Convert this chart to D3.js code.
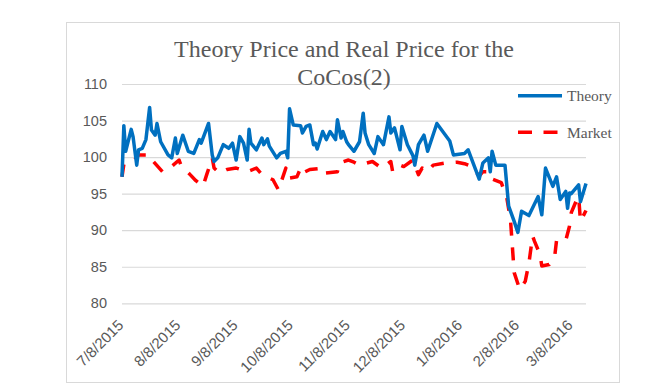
<!DOCTYPE html>
<html>
<head>
<meta charset="utf-8">
<script src="https://cdn.jsdelivr.net/npm/d3@7"></script>
<style>
  body { margin: 0; background: #ffffff; }
  .axis_text { font-family: "Liberation Sans", Arial, sans-serif; fill: #595959; }
</style>
</head>
<body>
<script>
var tickLabels = ["7/8/2015", "8/8/2015", "9/8/2015", "10/8/2015", "11/8/2015",
                  "12/8/2015", "1/8/2016", "2/8/2016", "3/8/2016"];
var yTicks = [80, 85, 90, 95, 100, 105, 110];

var theoryDates = ["7/8/2015", "7/9/2015", "7/10/2015", "7/13/2015", "7/14/2015", "7/16/2015",
  "7/17/2015", "7/19/2015", "7/21/2015", "7/23/2015", "7/24/2015", "7/26/2015", "7/27/2015",
  "7/29/2015", "8/2/2015", "8/4/2015", "8/6/2015", "8/7/2015", "8/10/2015", "8/13/2015",
  "8/16/2015", "8/19/2015", "8/20/2015", "8/24/2015", "8/26/2015", "8/27/2015", "8/29/2015",
  "9/1/2015", "9/4/2015", "9/6/2015", "9/8/2015", "9/10/2015", "9/12/2015", "9/14/2015",
  "9/15/2015", "9/16/2015", "9/19/2015", "9/22/2015", "9/23/2015", "9/25/2015", "9/26/2015",
  "9/30/2015", "10/2/2015", "10/5/2015", "10/6/2015", "10/7/2015", "10/9/2015", "10/13/2015",
  "10/14/2015", "10/16/2015", "10/18/2015", "10/20/2015", "10/21/2015", "10/22/2015",
  "10/25/2015", "10/27/2015", "10/29/2015", "11/1/2015", "11/2/2015", "11/4/2015", "11/5/2015",
  "11/7/2015", "11/8/2015", "11/11/2015", "11/14/2015", "11/16/2015", "11/17/2015",
  "11/19/2015", "11/22/2015", "11/24/2015", "11/27/2015", "11/30/2015", "12/1/2015",
  "12/3/2015", "12/6/2015", "12/7/2015", "12/10/2015", "12/13/2015", "12/14/2015",
  "12/16/2015", "12/19/2015", "12/21/2015", "12/26/2015", "1/2/2016", "1/4/2016", "1/10/2016",
  "1/12/2016", "1/18/2016", "1/20/2016", "1/23/2016", "1/24/2016", "1/25/2016", "1/27/2016",
  "2/1/2016", "2/3/2016", "2/6/2016", "2/8/2016", "2/10/2016", "2/14/2016", "2/19/2016",
  "2/21/2016", "2/23/2016", "2/27/2016", "2/29/2016", "3/2/2016", "3/5/2016", "3/6/2016",
  "3/7/2016", "3/8/2016", "3/12/2016", "3/13/2016", "3/16/2016"];
var theoryValues = [97.3, 104.3, 100.8, 103.8, 102.8, 98.9,
  101, 101.2, 102.4, 106.8, 103.7, 103, 104.6,
  102.1, 100.3, 99.9, 102.6, 100.5, 103, 100.8,
  100.5, 102.4, 101.9, 104.6, 100.3, 99.4, 99.9,
  101.7, 101.2, 101.9, 99.6, 102.8, 101.9, 99.6,
  103.8, 101.9, 101, 102.6, 101.7, 102.5, 101.5,
  99.9, 100.5, 100.8, 99.9, 106.6, 104.4, 104.3,
  103.3, 104.2, 104.4, 101.7, 101.9, 101.1,
  103.5, 102.4, 103.5, 102.4, 105.1, 102.6, 103.5,
  102.1, 101.7, 100.8, 102.1, 106, 103.3,
  101.7, 100.5, 102.8, 101.7, 105.5, 103.3,
  104, 101, 104.2, 101.7, 100.2, 98.9,
  101.7, 103, 100.8, 104.6, 102.2, 100.3, 100.5,
  101, 97, 99.2, 99.9, 98, 100.8, 98.9,
  98.9, 93.3, 91.2, 89.7, 92.6, 92, 94.6,
  92.1, 98.5, 96, 97.3, 94.2, 95.3, 93,
  95.1, 95, 96.2, 93.9, 96.4];

var marketDates = ["7/8/2015", "7/9/2015", "7/14/2015", "7/17/2015", "7/23/2015", "7/25/2015",
  "7/30/2015", "8/3/2015", "8/8/2015", "8/9/2015", "8/14/2015", "8/17/2015", "8/21/2015",
  "8/23/2015", "8/26/2015", "8/27/2015", "8/30/2015", "9/3/2015", "9/8/2015", "9/14/2015",
  "9/19/2015", "9/22/2015", "9/28/2015", "10/1/2015", "10/5/2015", "10/6/2015", "10/11/2015",
  "10/13/2015", "10/14/2015", "10/18/2015", "10/25/2015", "10/26/2015", "11/2/2015",
  "11/3/2015", "11/8/2015", "11/11/2015", "11/14/2015", "11/21/2015", "11/26/2015",
  "12/1/2015", "12/2/2015", "12/6/2015", "12/8/2015", "12/13/2015", "12/16/2015",
  "12/18/2015", "12/21/2015", "12/24/2015", "12/31/2015", "1/6/2016", "1/10/2016",
  "1/14/2016", "1/18/2016", "1/20/2016", "1/23/2016", "1/24/2016", "1/30/2016", "2/2/2016",
  "2/4/2016", "2/6/2016", "2/9/2016", "2/12/2016", "2/14/2016", "2/16/2016", "2/17/2016",
  "2/20/2016", "2/21/2016", "2/25/2016", "2/28/2016", "2/29/2016", "3/5/2016", "3/7/2016",
  "3/8/2016", "3/11/2016", "3/12/2016", "3/13/2016", "3/16/2016"];
var marketValues = [97.3, 99, 99.4, 100.3, 100.3, 99.4,
  98, 98.5, 99.6, 98.9, 97.6, 96.8, 96,
  97.6, 99.9, 98.5, 97.8, 98.3, 98.5, 98,
  98.5, 97.6, 96.9, 95.5, 98.5, 97.1, 97.3,
  98.5, 97.8, 98.3, 98.5, 97.8, 98,
  99.2, 99.6, 99.3, 98.9, 99.4, 98.5,
  99.4, 98, 98.9, 98.7, 99.6, 97.6,
  98.5, 98, 98.9, 99.2, 99.3, 99.1,
  98.7, 97.4, 98, 98, 97.1, 96.5, 94.4,
  91.4, 84.2, 81.9, 83, 85.5, 89.2, 88.5,
  86.7, 85.1, 85.3, 86.4, 88.6, 88.6, 90.5,
  92.4, 94.2, 94.6, 91.2, 92.7];

var parseDate = d3.timeParse("%m/%d/%Y");

var theory = theoryDates.map((d, i) => ({ date: parseDate(d), value: theoryValues[i] }));
var market = marketDates.map((d, i) => ({ date: parseDate(d), value: marketValues[i] }));

var w = 656;
var h = 391;

var svg = d3.select("body")
            .append("svg")
            .attr("width", w)
            .attr("height", h);

// chart frame
svg.append("rect")
   .attr("x", 66.5)
   .attr("y", 22.5)
   .attr("width", 553)
   .attr("height", 360)
   .attr("fill", "#ffffff")
   .attr("stroke", "#d9d9d9");

// scales
var x = d3.scaleTime()
          .domain([parseDate("7/8/2015"), parseDate("3/16/2016")])
          .range([122, 586]);

var y = d3.scaleLinear()
          .domain([80, 110])
          .range([303.3, 84]);

// gridlines + y labels
var y_axis = svg.append("g")
    .attr("class", "y axis")
    .attr("transform", "translate(122,0)")
    .call(d3.axisLeft(y).tickValues(yTicks).tickSize(-(586 - 122)).tickPadding(15));
y_axis.select(".domain").remove();
y_axis.selectAll("line")
      .attr("stroke", "#d9d9d9")
      .attr("stroke-width", 1.2);
y_axis.selectAll("text")
      .attr("class", "axis_text")
      .attr("font-size", "14.5px");

// x labels
var x_axis = svg.append("g")
    .attr("class", "x axis")
    .attr("transform", "translate(0,303.3)")
    .call(d3.axisBottom(x).tickValues(tickLabels.map(parseDate)).tickSize(0)
            .tickFormat((d, i) => tickLabels[i]));
x_axis.select(".domain").remove();
x_axis.selectAll("text")
      .attr("class", "axis_text")
      .attr("font-size", "15px")
      .attr("text-anchor", "end")
      .attr("dy", null)
      .attr("y", null)
      .attr("transform", "translate(-2,19) rotate(-45)")
      .attr("dominant-baseline", "central");

// lines
var line = d3.line()
             .x(d => x(d.date))
             .y(d => y(d.value));

svg.append("path")
   .datum(market)
   .attr("d", line)
   .attr("fill", "none")
   .attr("stroke", "#ff0000")
   .attr("stroke-width", 3.5)
   .attr("stroke-dasharray", "13,12")
   .attr("stroke-linejoin", "round");

svg.append("path")
   .datum(theory)
   .attr("d", line)
   .attr("fill", "none")
   .attr("stroke", "#0070c0")
   .attr("stroke-width", 3.5)
   .attr("stroke-linejoin", "round");

// title
var title = svg.append("text")
   .attr("text-anchor", "middle")
   .attr("font-family", "'Liberation Serif', serif")
   .attr("font-size", "24px")
   .attr("fill", "#595959");
title.append("tspan").attr("x", 344).attr("y", 57).text("Theory Price and Real Price for the");
title.append("tspan").attr("x", 344).attr("y", 84.5).text("CoCos(2)");

// legend
var legend = svg.append("g")
                .selectAll("g")
                .data([{ name: "Theory", color: "#0070c0", dash: null, y: 95.7 },
                       { name: "Market", color: "#ff0000", dash: "14,11.5", y: 132.3 }])
                .enter()
                .append("g");
legend.append("line")
      .attr("x1", 518)
      .attr("x2", 562)
      .attr("y1", d => d.y)
      .attr("y2", d => d.y)
      .attr("stroke", d => d.color)
      .attr("stroke-width", 3.5)
      .attr("stroke-dasharray", d => d.dash);
legend.append("text")
      .attr("x", 567)
      .attr("y", d => d.y + 5.3)
      .attr("font-family", "'Liberation Serif', serif")
      .attr("font-size", "15.5px")
      .attr("fill", "#595959")
      .text(d => d.name);
</script>
</body>
</html>
